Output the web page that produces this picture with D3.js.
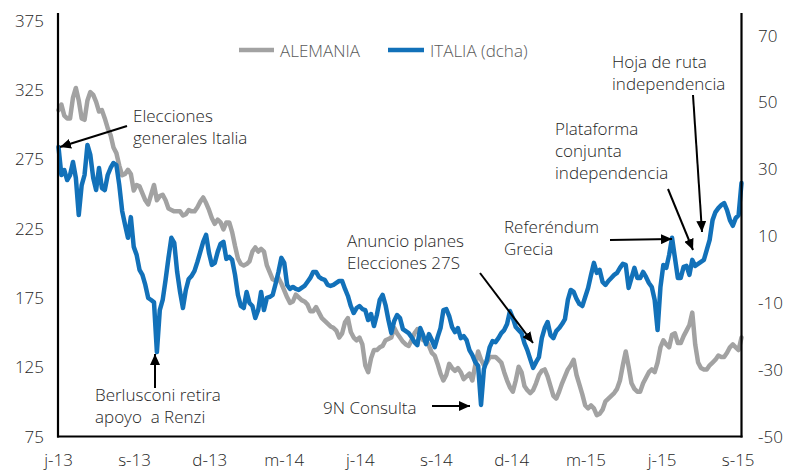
<!DOCTYPE html>
<html><head><meta charset="utf-8">
<script src="https://cdn.jsdelivr.net/npm/d3@7"></script>
<style>
body{margin:0;background:#fff}
svg{display:block;font-family:"Open Sans",sans-serif;font-weight:300}
</style>
</head><body><svg id="c" width="790" height="473"></svg>
<script>
// ---------- DATA ----------
const startDate = "2013-06-01";          // twice-weekly observations (every 3.5 days)
const xTickLabels = ["j-13","s-13","d-13","m-14","j-14","s-14","d-14","m-15","j-15","s-15"];
const xTickDates  = ["2013-06-01","2013-09-01","2013-12-01","2014-03-01","2014-06-01","2014-09-01","2014-12-01","2015-03-01","2015-06-01","2015-09-01"];
const leftTicks  = [75,125,175,225,275,325,375];
const rightTicks = [-50,-30,-10,10,30,50,70];
const seriesNames = ["ALEMANIA","ITALIA (dcha)"];

const alemania = [
 310,314, 306,304, 304,319, 326,317, 304,303, 317,323, 321,316, 309,310, 304,297, 292,283,
 279,270, 263,264, 267,264, 252,256, 255,250, 245,242, 249,256, 245,248, 249,245, 239,238,
 237,237, 237,234, 235,238, 237,237, 240,244, 247,243, 238,232, 228,231, 229,224, 229,229,
 222,212, 203,199, 198,199, 201,208, 211,208, 210,208, 198,193, 188,187, 189,185, 180,175,
 171,172, 177,175, 173,172, 170,165, 165,168, 164,160, 158,156, 154,153, 151,146, 149,157,
 160,150, 146,144, 146,141, 126,121, 131,137, 137,139, 140,144, 145,146, 153,149, 146,143,
 141,140, 144,149, 152,147, 144,144, 140,135, 133,127, 120,115, 119,127, 124,122, 124,121,
 116,118, 120,115, 126,136, 130,126, 128,132, 132,132, 130,128, 121,115, 110,107, 115,125,
 121,111, 108,106, 108,113, 119,122, 123,118, 111,104, 102,107, 113,118, 123,126, 130,119,
 112,105, 97,95, 97,95, 90,91, 94,100, 102,104, 106,109, 115,126, 136,125, 113,109,
 107,107, 113,117, 121,123, 121,128, 139,144, 141,139, 148,149, 142,142, 147,151, 155,164,
 141,128, 124,123, 123,126, 128,130, 133,132, 132,135, 139,141, 139,137, 146
];
const italia = [
 36.5,28.1, 29.6,26.6, 28.1,32, 27.2,16.1, 25,28.1, 37.1,34.1, 27.2,23.6, 30.2,24.2, 23.6,28.1, 30.2,31.7,
 31.1,25.1, 17.3,13.2, 9.3,15.5, 6.6,4.2, -0.3,-1.8, -4.8,-8.7, -9.3,-10, -24.9,-12.3, -9.3,-3.3, 3.3,9.3,
 7.8,-0.9, -6.9,-11.7, -6.3,-3, -2.1,-0.6, 2.1,5.1, 8.1,10.2, 4.8,1.2, 1.8,5.1, 7.5,8.1, 3.0,3.6,
 2.7,-1.8, -7.8,-11.1, -11.7,-6.9, -10.2,-11.1, -14.7,-12.3, -6.9,-12.3, -8.7,-8.4, -7.8,-4.5, -0.9,3.3, 1.8,-4.8,
 -6.0,-5.4, -6.0,-6.3, -5.7,-5.1, -3.9,-2.7, -0.9,-0.9, -2.4,-3, -3.3,-4.8, -5.1,-4.8, -4.2,-3.6, -3.6,-6,
 -8.1,-11.1, -13.2,-11.7, -11.1,-12, -12.3,-15.3, -13.5,-17.1, -13.8,-9.3, -7.8,-10.8, -15.3,-19.2, -15.6,-13.8, -14.7,-18,
 -18.6,-19.2, -20.4,-21.9, -22.8,-17.7, -19.8,-22.5, -19.5,-21.3, -23.4,-20.4, -17.7,-12.3, -12.0,-14.1, -17.4,-18.9, -17.7,-20.7,
 -20.1,-21.3, -24.3,-25.8, -27.9,-29, -40.7,-30, -27.3,-23.4, -21.6,-21.9, -20.7,-19.2, -18.3,-16.5, -12.6,-14.7, -17.4,-18.3,
 -19.2,-22.2, -24.3,-27, -29.6,-27.9, -26.4,-20.7, -17.7,-15.9, -19.8,-20.7, -18.6,-17.7, -16.5,-15, -9.3,-6.3, -6.9,-9,
 -10.5,-11.1, -8.4,-5.7, -1.8,1.8, -1.2,-0.3, -3.9,-4.8, -3.6,-2.7, -1.8,-1.2, 0.3,1.5, 1.2,-5.7, -2.7,0.3,
 -2.7,-2.7, -0.9,-2.4, -4.2,-5.4, -9.3,-18.3, -5.4,1.2, 0.3,4.2, 9.3,3.3, -2.7,-2.7, 0.6,0.9, -1.8,2.7,
 0.9,1.5, 2.1,2.7, 5.7,8.7, 14.6,17, 18.2,19.1, 19.7,17.6, 14.6,12.9, 15.2,16.1, 25.7
];

// annotations (layout): text lines, text origin, arrow tail -> tip
const annotations = [
 {lines:["Elecciones","generales Italia"], x:133, y:122, from:[127,126], to:[60,147]},
 {lines:["Berlusconi retira","apoyo  a Renzi"], x:95, y:401, from:[155,388], to:[155,354]},
 {lines:["9N Consulta"], x:323, y:414, from:[432,406], to:[470,406]},
 {lines:["Anuncio planes","Elecciones 27S"], x:347, y:247, from:[480,273], to:[533,343]},
 {lines:["Referéndum","Grecia"], x:504, y:233, from:[610,240], to:[672,239]},
 {lines:["Plataforma","conjunta","independencia"], x:555, y:135, from:[668,189], to:[693,250]},
 {lines:["Hoja de ruta","independencia"], x:612, y:68, from:[693,95], to:[702,232]}
];

// ---------- CHART ----------
const svg = d3.select("#c");
const parse = d3.utcParse("%Y-%m-%d");
const t0 = parse(startDate);
const dates = alemania.map((_, i) => d3.utcHour.offset(t0, 84 * i));

const x = d3.scaleUtc().domain([dates[0], dates[dates.length - 1]]).range([58.5, 741.5]);
const yL = d3.scaleLinear().domain([75, 375]).range([436, 20]);
const yR = d3.scaleLinear().domain([-50, 70]).range([436, 35]);

const GRAY = "#a2a2a2", BLUE = "#1271b9", TXT = "#262626";

// lines
const lineL = d3.line().x((d, i) => x(dates[i])).y(d => yL(d));
const lineR = d3.line().x((d, i) => x(dates[i])).y(d => yR(d));
svg.append("path").datum(alemania).attr("d", lineL)
  .attr("fill","none").attr("stroke",GRAY).attr("stroke-width",4.5)
  .attr("stroke-linejoin","round").attr("stroke-linecap","round");
svg.append("path").datum(italia).attr("d", lineR)
  .attr("fill","none").attr("stroke",BLUE).attr("stroke-width",4.5)
  .attr("stroke-linejoin","round").attr("stroke-linecap","round");

// axes lines
const ax = svg.append("g").attr("stroke","#000").attr("stroke-width",2.2);
ax.append("line").attr("x1",58).attr("x2",58).attr("y1",13).attr("y2",437.5);
ax.append("line").attr("x1",741.5).attr("x2",741.5).attr("y1",13).attr("y2",437.5);
ax.append("line").attr("x1",57).attr("x2",742.5).attr("y1",436.5).attr("y2",436.5);

// tick labels
const fs = 17;
svg.append("g").selectAll("text").data(leftTicks).join("text")
  .attr("x",44).attr("y",d => yL(d) + 6.5).attr("text-anchor","end")
  .attr("font-size",fs).attr("fill",TXT).text(d => d);
svg.append("g").selectAll("text").data(rightTicks).join("text")
  .attr("x",758).attr("y",d => yR(d) + 6.5).attr("text-anchor","start")
  .attr("font-size",fs).attr("fill",TXT).text(d => d);
svg.append("g").selectAll("text").data(xTickLabels).join("text")
  .attr("x",(d,i) => x(parse(xTickDates[i]))).attr("y",466).attr("text-anchor","middle")
  .attr("font-size",fs).attr("fill",TXT).text(d => d);

// legend
const lg = svg.append("g");
lg.append("line").attr("x1",239).attr("x2",274).attr("y1",50).attr("y2",50).attr("stroke",GRAY).attr("stroke-width",4.5);
lg.append("text").attr("x",280).attr("y",57).attr("font-size",fs).attr("fill","#595959").text(seriesNames[0]);
lg.append("line").attr("x1",388).attr("x2",424).attr("y1",50).attr("y2",50).attr("stroke",BLUE).attr("stroke-width",4.5);
lg.append("text").attr("x",430).attr("y",57).attr("font-size",fs).attr("fill","#595959").text(seriesNames[1]);

// arrow marker
svg.append("defs").append("marker").attr("id","ah")
  .attr("markerUnits","userSpaceOnUse").attr("markerWidth",12).attr("markerHeight",10)
  .attr("refX",11).attr("refY",5).attr("orient","auto")
  .append("path").attr("d","M0,0 L11,5 L0,10 Z").attr("fill","#000");

// annotations
const an = svg.append("g");
annotations.forEach(a => {
  an.append("line").attr("x1",a.from[0]).attr("y1",a.from[1]).attr("x2",a.to[0]).attr("y2",a.to[1])
    .attr("stroke","#000").attr("stroke-width",2).attr("marker-end","url(#ah)");
  const t = an.append("text").attr("font-size",fs).attr("fill",TXT).style("white-space","pre");
  a.lines.forEach((l, k) => t.append("tspan").attr("x",a.x).attr("y",a.y + k * 22).text(l));
});
</script>
</body></html>
